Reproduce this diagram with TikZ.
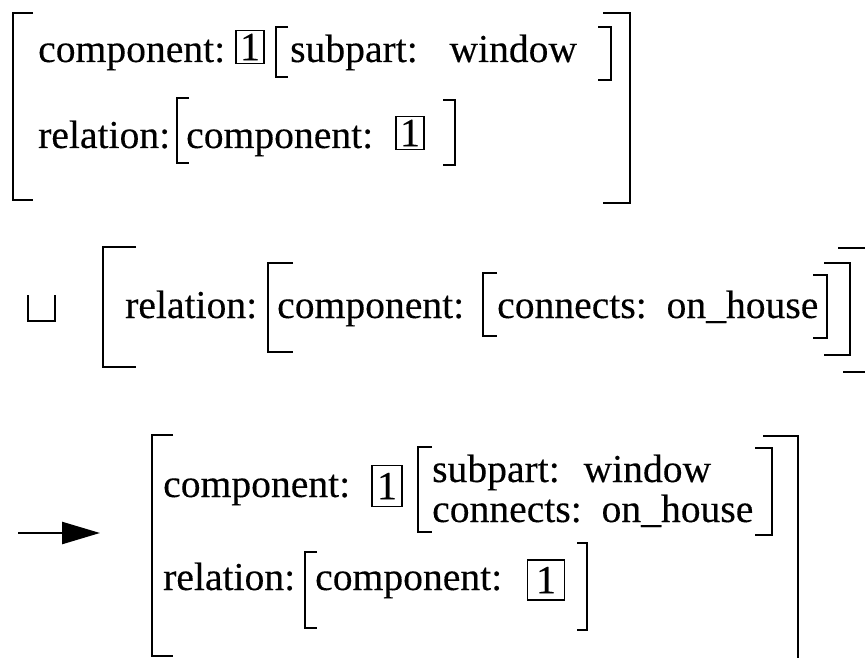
\documentclass[tikz,border=0pt]{standalone}
\usepackage{fontspec}
\setmainfont{Liberation Serif}
\newfontfamily\heavyserif[FakeBold=0.25]{Liberation Serif}
\usetikzlibrary{arrows.meta}
\tikzset{
  txt/.style={anchor=base west, inner sep=0pt, font=\heavyserif\fontsize{39.6}{40}\selectfont},
  tagbox/.style={draw, line width=1.4pt, inner sep=0pt, font=\heavyserif\fontsize{40}{40}\selectfont},
  brk/.style={line width=2.2pt},
}
\newcommand{\lbrk}[4]{\draw[brk] (#1+#4,#2) -- (#1,#2) -- (#1,#3) -- (#1+#4,#3);}
\newcommand{\rbrk}[4]{\draw[brk] (#1-#4,#2) -- (#1,#2) -- (#1,#3) -- (#1-#4,#3);}
\begin{document}
\begin{tikzpicture}[x=1pt,y=-1pt]
\useasboundingbox (0,0) rectangle (865,658);
\clip (0,0) rectangle (865,658);
% ---------- top block ----------
\lbrk{13}{13}{200}{20}
\rbrk{630}{13}{203}{27}
\node[txt] (t1) at (38,62) {component:};
\node[tagbox, minimum width=28pt, minimum height=33pt] (tb1) at (250,47) {1};
\lbrk{276}{27}{77}{12}
\node[txt] (t2) at (290,62) {subpart:\hspace{0.8em}window};
\rbrk{611}{27}{80}{13}
\node[txt] (t3) at (38,148) {relation:};
\lbrk{177}{98}{163}{12}
\node[txt] (t4) at (186,148) {component:};
\node[tagbox, minimum width=28pt, minimum height=33pt] (tb2) at (410,133) {1};
\rbrk{455}{100}{165}{12}
% ---------- middle block ----------
\draw[line width=2.2pt] (28,295) -- (28,321) -- (55,321) -- (55,295);
\lbrk{103}{247}{367}{33}
\node[txt] (m1) at (125,318) {relation:};
\lbrk{268}{263}{352}{25}
\node[txt] (m2) at (277,318) {component:};
\lbrk{483}{273}{336}{14}
\node[txt] (m3) at (497,318) {connects:\hspace{0.5em}on\_house};
\rbrk{827}{275}{338}{14}
\rbrk{850}{263}{355}{26}
\draw[brk] (838,248) -- (870,248) -- (870,372) -- (843,372);
% ---------- bottom block ----------
\coordinate (a0) at (18,533);
\coordinate (a1) at (100,533);
\draw[line width=2.5pt, -{Triangle[length=38pt,width=22pt]}] (a0) -- (a1);
\lbrk{152}{435}{656}{21}
\rbrk{798}{436}{670}{35}
\node[txt] (b1) at (163,497) {component:};
\node[tagbox, minimum width=30pt, minimum height=41pt] (bb1) at (387,486) {1};
\lbrk{418}{447}{532}{14}
\node[txt] (b2) at (432,482) {subpart:\hspace{0.6em}window};
\node[txt] (b3) at (432,522) {connects:\hspace{0.5em}on\_house};
\rbrk{772}{448}{535}{17}
\node[txt] (b4) at (163,590) {relation:};
\lbrk{305}{552}{628}{12}
\node[txt] (b5) at (315,590) {component:};
\node[tagbox, minimum width=37pt, minimum height=40pt] (bb2) at (546,580) {1};
\rbrk{587}{543}{630}{10}
\end{tikzpicture}
\end{document}
